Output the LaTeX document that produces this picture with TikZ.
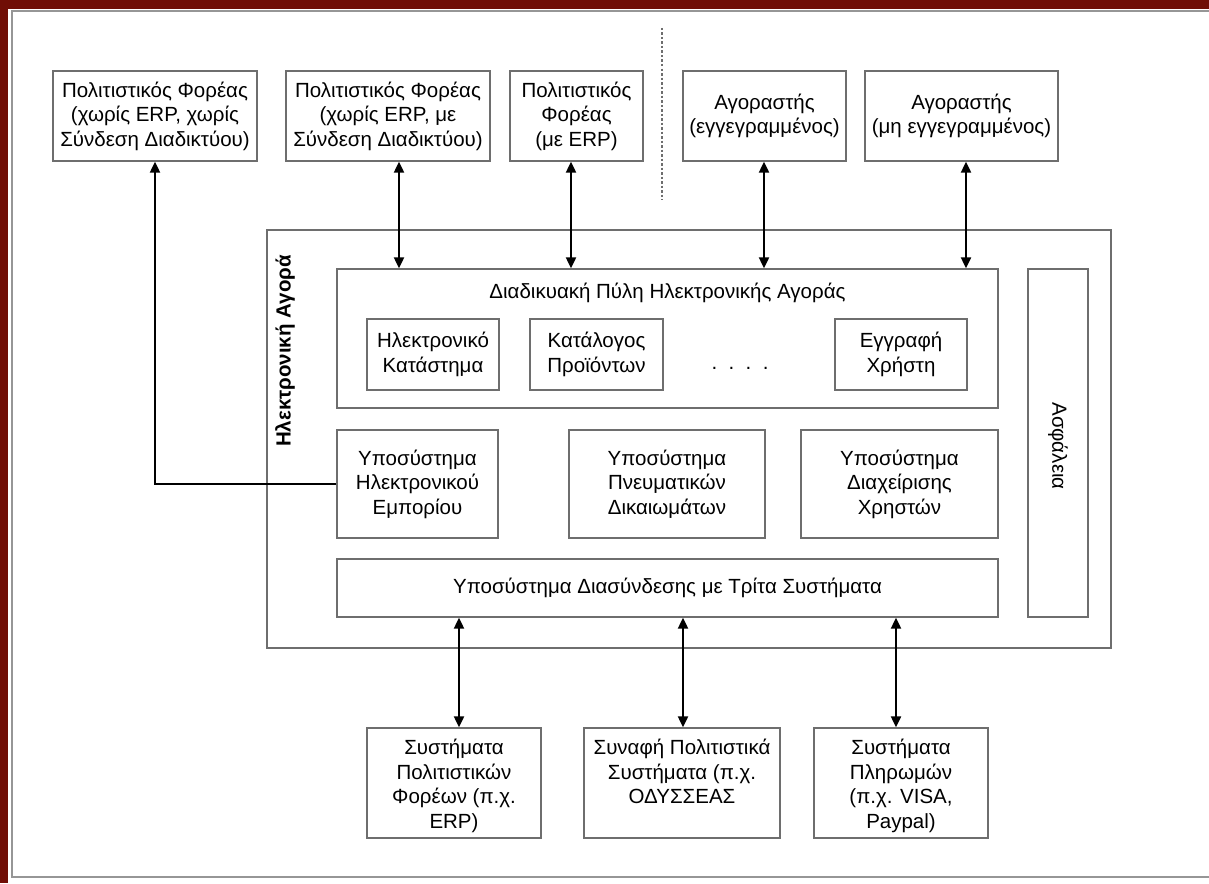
\documentclass[tikz,border=0pt]{standalone}
\usepackage{fontspec}
\setmainfont{Liberation Sans}
\usetikzlibrary{arrows.meta,calc}
\definecolor{framered}{RGB}{112,14,6}
\definecolor{boxgray}{RGB}{110,110,110}
\definecolor{panelgray}{RGB}{150,150,150}
\newcommand{\fsz}{\fontsize{20.5}{24.5}\selectfont}
\tikzset{
  bx/.style={draw=boxgray, line width=1.3pt, inner sep=0pt, align=center, font=\fsz},
  arr/.style={line width=2pt, -{Triangle[length=11pt,width=10pt]}},
  dbl/.style={line width=2pt, {Triangle[length=11pt,width=10pt]}-{Triangle[length=11pt,width=10pt]}},
}
\begin{document}
\begin{tikzpicture}[x=1pt,y=-1pt]
\useasboundingbox (0,0) rectangle (1209,883);
% frame
\fill[framered] (0,0) rectangle (1209,883);
\fill[white] (8,9) rectangle (1209,883);
\draw[panelgray, line width=1.5pt] (1209,11) -- (12,11) -- (12,877) -- (1209,877);

% dashed separator
\draw[boxgray, line width=1.3pt, dash pattern=on 2.5pt off 2pt] (662,28) -- (662,200);

% top row
\node[bx, minimum width=204, minimum height=90] (t1) at (155,116) {Πολιτιστικός Φορέας\\(χωρίς ERP, χωρίς\\Σύνδεση Διαδικτύου)};
\node[bx, minimum width=204, minimum height=90] (t2) at (388,116) {Πολιτιστικός Φορέας\\(χωρίς ERP, με\\Σύνδεση Διαδικτύου)};
\node[bx, minimum width=133, minimum height=90] (t3) at (576.5,116) {Πολιτιστικός\\Φορέας\\(με ERP)};
\node[bx, minimum width=163, minimum height=90] (t4) at (764.5,116) {Αγοραστής\\(εγγεγραμμένος)};
\node[bx, minimum width=193, minimum height=90] (t5) at (961.5,116) {Αγοραστής\\(μη εγγεγραμμένος)};

% outer market box
\node[bx, minimum width=844, minimum height=418] (market) at (689,439) {};
\node[font=\fsz\bfseries, rotate=90] (marketlbl) at (285,351) {Ηλεκτρονική Αγορά};

% portal
\node[bx, minimum width=661, minimum height=139] (portal) at (667.5,338.5) {};
\node[font=\fsz] (portallbl) at (667.5,293) {Διαδικυακή Πύλη Ηλεκτρονικής Αγοράς};
\node[bx, minimum width=132, minimum height=71] (e1) at (433,354.5) {Ηλεκτρονικό\\Κατάστημα};
\node[bx, minimum width=133, minimum height=71] (e2) at (596.5,354.5) {Κατάλογος\\Προϊόντων};
\node[font=\fsz] (dots) at (740,368) {.\ \ .\ \ .\ \ .};
\node[bx, minimum width=132, minimum height=71] (e3) at (901,354.5) {Εγγραφή\\Χρήστη};

% subsystems
\node[bx, minimum width=161, minimum height=108] (s1) at (417.5,484) {Υποσύστημα\\Ηλεκτρονικού\\Εμπορίου};
\node[bx, minimum width=196, minimum height=108] (s2) at (667,484) {Υποσύστημα\\Πνευματικών\\Δικαιωμάτων};
\node[bx, minimum width=197, minimum height=108] (s3) at (899.5,484) {Υποσύστημα\\Διαχείρισης\\Χρηστών};

% interconnection
\node[bx, minimum width=661, minimum height=58] (inter) at (667.5,588) {Υποσύστημα Διασύνδεσης με Τρίτα Συστήματα};

% security
\node[bx, minimum width=60, minimum height=348] (sec) at (1058,443) {};
\node[font=\fsz, rotate=-90] (seclbl) at (1058,446) {Ασφάλεια};

% bottom row
\node[bx, minimum width=174, minimum height=110] (b1) at (454,783) {};
\node[font=\fsz, align=center, inner sep=0pt] (b1txt) at (454,786) {Συστήματα\\Πολιτιστικών\\Φορέων (π.χ.\\ERP)};
\node[bx, minimum width=196, minimum height=110] (b2) at (682,783) {};
\node[font=\fsz, align=center, anchor=north, inner sep=0pt] (b2txt) at (682,739) {Συναφή Πολιτιστικά\\Συστήματα (π.χ.\\ΟΔΥΣΣΕΑΣ};
\node[bx, minimum width=174, minimum height=110] (b3) at (901,783) {};
\node[font=\fsz, align=center, inner sep=0pt] (b3txt) at (901,786) {Συστήματα\\Πληρωμών\\(π.χ. VISA,\\Paypal)};

% arrow x positions
\coordinate (x2) at (399,0);
\coordinate (x3) at (571,0);
\coordinate (x4) at (764,0);
\coordinate (x5) at (966,0);
\coordinate (y1) at (459,0);
\coordinate (y2) at (683,0);
\coordinate (y3) at (896,0);

% connectors
\draw[arr] (s1.west) -| (t1.south);
\draw[dbl] (t2.south -| x2) -- (portal.north -| x2);
\draw[dbl] (t3.south -| x3) -- (portal.north -| x3);
\draw[dbl] (t4.south -| x4) -- (portal.north -| x4);
\draw[dbl] (t5.south -| x5) -- (portal.north -| x5);
\draw[dbl] (inter.south -| y1) -- (b1.north -| y1);
\draw[dbl] (inter.south -| y2) -- (b2.north -| y2);
\draw[dbl] (inter.south -| y3) -- (b3.north -| y3);
\end{tikzpicture}
\end{document}
